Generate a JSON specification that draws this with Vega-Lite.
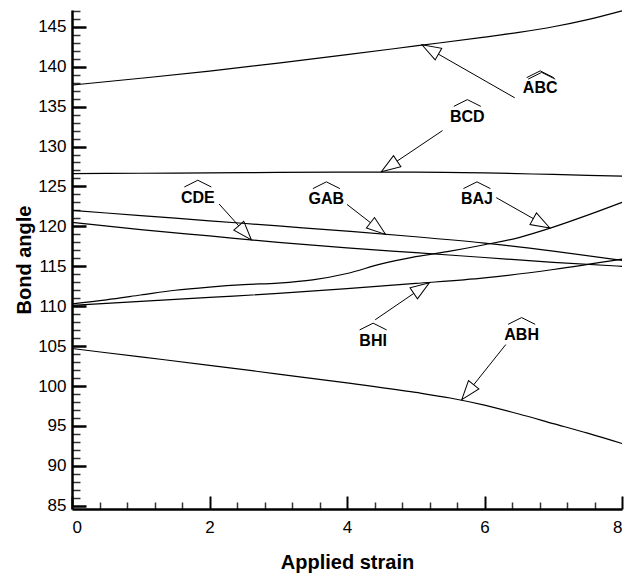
{
  "$schema": "https://vega.github.io/schema/vega-lite/v6.json",
  "width": 550,
  "height": 499,
  "autosize": {"type": "none"},
  "padding": {"left": 72, "top": 10, "right": 9, "bottom": 66},
  "background": "white",
  "config": {"view": {"stroke": null}, "font": "Liberation Sans"},
  "datasets": {
    "curves": [
      {"s": "ABC", "x": 0, "y": 137.7}, {"s": "ABC", "x": 1, "y": 138.55}, {"s": "ABC", "x": 2, "y": 139.45}, {"s": "ABC", "x": 3, "y": 140.45}, {"s": "ABC", "x": 4, "y": 141.5}, {"s": "ABC", "x": 5, "y": 142.6}, {"s": "ABC", "x": 6, "y": 143.7}, {"s": "ABC", "x": 6.5, "y": 144.3}, {"s": "ABC", "x": 7, "y": 145.0}, {"s": "ABC", "x": 7.5, "y": 145.9}, {"s": "ABC", "x": 8, "y": 147.0},
      {"s": "BCD", "x": 0, "y": 126.6}, {"s": "BCD", "x": 1, "y": 126.65}, {"s": "BCD", "x": 2, "y": 126.7}, {"s": "BCD", "x": 3, "y": 126.75}, {"s": "BCD", "x": 4, "y": 126.8}, {"s": "BCD", "x": 5, "y": 126.8}, {"s": "BCD", "x": 6, "y": 126.7}, {"s": "BCD", "x": 7, "y": 126.5}, {"s": "BCD", "x": 8, "y": 126.3},
      {"s": "GAB", "x": 0, "y": 122.0}, {"s": "GAB", "x": 1, "y": 121.35}, {"s": "GAB", "x": 2, "y": 120.7}, {"s": "GAB", "x": 3, "y": 120.05}, {"s": "GAB", "x": 4, "y": 119.4}, {"s": "GAB", "x": 5, "y": 118.7}, {"s": "GAB", "x": 6, "y": 117.9}, {"s": "GAB", "x": 7, "y": 116.9}, {"s": "GAB", "x": 8, "y": 115.75},
      {"s": "CDE", "x": 0, "y": 120.5}, {"s": "CDE", "x": 1, "y": 119.6}, {"s": "CDE", "x": 2, "y": 118.8}, {"s": "CDE", "x": 3, "y": 118.0}, {"s": "CDE", "x": 4, "y": 117.3}, {"s": "CDE", "x": 5, "y": 116.7}, {"s": "CDE", "x": 6, "y": 116.1}, {"s": "CDE", "x": 7, "y": 115.5}, {"s": "CDE", "x": 8, "y": 115.0},
      {"s": "BAJ", "x": 0, "y": 110.3}, {"s": "BAJ", "x": 0.5, "y": 110.8}, {"s": "BAJ", "x": 1, "y": 111.4}, {"s": "BAJ", "x": 1.5, "y": 112.0}, {"s": "BAJ", "x": 2, "y": 112.4}, {"s": "BAJ", "x": 2.5, "y": 112.7}, {"s": "BAJ", "x": 3, "y": 112.9}, {"s": "BAJ", "x": 3.5, "y": 113.3}, {"s": "BAJ", "x": 4, "y": 114.1}, {"s": "BAJ", "x": 4.5, "y": 115.3}, {"s": "BAJ", "x": 5, "y": 116.2}, {"s": "BAJ", "x": 5.5, "y": 116.9}, {"s": "BAJ", "x": 6, "y": 117.7}, {"s": "BAJ", "x": 6.5, "y": 118.6}, {"s": "BAJ", "x": 7, "y": 119.9}, {"s": "BAJ", "x": 7.5, "y": 121.4}, {"s": "BAJ", "x": 8, "y": 123.0},
      {"s": "BHI", "x": 0, "y": 110.1}, {"s": "BHI", "x": 1, "y": 110.6}, {"s": "BHI", "x": 2, "y": 111.1}, {"s": "BHI", "x": 3, "y": 111.6}, {"s": "BHI", "x": 4, "y": 112.2}, {"s": "BHI", "x": 5, "y": 112.85}, {"s": "BHI", "x": 6, "y": 113.55}, {"s": "BHI", "x": 7, "y": 114.6}, {"s": "BHI", "x": 8, "y": 115.9},
      {"s": "ABH", "x": 0, "y": 104.7}, {"s": "ABH", "x": 1, "y": 103.65}, {"s": "ABH", "x": 2, "y": 102.6}, {"s": "ABH", "x": 3, "y": 101.5}, {"s": "ABH", "x": 4, "y": 100.4}, {"s": "ABH", "x": 5, "y": 99.2}, {"s": "ABH", "x": 5.5, "y": 98.5}, {"s": "ABH", "x": 6, "y": 97.6}, {"s": "ABH", "x": 6.5, "y": 96.5}, {"s": "ABH", "x": 7, "y": 95.3}, {"s": "ABH", "x": 7.5, "y": 94.1}, {"s": "ABH", "x": 8, "y": 92.8}
    ],
    "ann": [
      {"label": "ABC", "lx": 6.81, "ly": 137.3, "tx": 6.44, "ty": 136.1, "hx": 5.09, "hy": 142.75, "angle": 209.7},
      {"label": "BCD", "lx": 5.75, "ly": 133.7, "tx": 5.39, "ty": 132.0, "hx": 4.5, "hy": 126.85, "angle": 146.3},
      {"label": "CDE", "lx": 1.83, "ly": 123.6, "tx": 2.14, "ty": 122.8, "hx": 2.61, "hy": 118.3, "angle": 48.3},
      {"label": "GAB", "lx": 3.7, "ly": 123.4, "tx": 4.0, "ty": 122.75, "hx": 4.56, "hy": 119.0, "angle": 37.6},
      {"label": "BAJ", "lx": 5.89, "ly": 123.4, "tx": 6.17, "ty": 123.6, "hx": 6.95, "hy": 119.8, "angle": 29.1},
      {"label": "BHI", "lx": 4.38, "ly": 105.7, "tx": 4.41, "ty": 108.3, "hx": 5.2, "hy": 112.95, "angle": 326},
      {"label": "ABH", "lx": 6.54, "ly": 106.4, "tx": 6.31, "ty": 105.2, "hx": 5.67, "hy": 98.3, "angle": 128.7}
    ]
  },
  "layer": [
    {
      "data": {"name": "ann"},
      "mark": {"type": "rule", "color": "black", "strokeWidth": 1},
      "encoding": {
        "x": {"field": "tx", "type": "quantitative", "scale": {"domain": [0, 8], "nice": false, "zero": false},
          "axis": {"orient": "bottom", "values": [0.4, 0.8, 1.2, 1.6, 2.4, 2.8, 3.2, 3.6, 4.4, 4.8, 5.2, 5.6, 6.4, 6.8, 7.2, 7.6], "labels": false, "domain": false, "title": null, "grid": false, "tickSize": -7, "tickWidth": 1.5, "tickColor": "#333333"}},
        "y": {"field": "ty", "type": "quantitative", "scale": {"domain": [84.6, 147.1], "nice": false, "zero": false},
          "axis": {"orient": "left", "values": [86, 87, 88, 89, 91, 92, 93, 94, 96, 97, 98, 99, 101, 102, 103, 104, 106, 107, 108, 109, 111, 112, 113, 114, 116, 117, 118, 119, 121, 122, 123, 124, 126, 127, 128, 129, 131, 132, 133, 134, 136, 137, 138, 139, 141, 142, 143, 144, 146, 147], "labels": false, "domain": false, "title": null, "grid": false, "tickSize": -8, "tickWidth": 1.5, "tickColor": "#333333"}},
        "x2": {"field": "hx"},
        "y2": {"field": "hy"}
      }
    },
    {
      "data": {"name": "ann"},
      "mark": {"type": "point", "shape": "M 0 0 L -2 -0.7 L -2 0.7 Z", "size": 361, "filled": true, "fill": "white", "stroke": "black", "strokeWidth": 1, "opacity": 1},
      "encoding": {
        "x": {"field": "hx", "type": "quantitative", "axis": null},
        "y": {"field": "hy", "type": "quantitative", "axis": null},
        "angle": {"field": "angle", "type": "quantitative", "scale": null}
      }
    },
    {
      "data": {"name": "curves"},
      "mark": {"type": "line", "color": "black", "strokeWidth": 1.2, "interpolate": "monotone"},
      "encoding": {
        "x": {"field": "x", "type": "quantitative", "scale": {"domain": [0, 8], "nice": false, "zero": false},
          "axis": {"orient": "bottom", "values": [0, 2, 4, 6, 8], "format": "d", "grid": false, "domainColor": "black", "domainWidth": 2.5, "tickColor": "black", "tickSize": -13, "tickWidth": 2, "labelFontSize": 17, "labelColor": "black", "labelFont": "Liberation Sans", "labelPadding": 23, "title": "Applied strain", "titleFont": "Liberation Sans", "titleFontSize": 20, "titleFontWeight": "bold", "titleColor": "black", "titlePadding": 17}},
        "y": {"field": "y", "type": "quantitative", "scale": {"domain": [84.6, 147.1], "nice": false, "zero": false},
          "axis": {"orient": "left", "values": [85, 90, 95, 100, 105, 110, 115, 120, 125, 130, 135, 140, 145], "grid": false, "domainColor": "black", "domainWidth": 2.5, "tickColor": "black", "tickSize": -14, "tickWidth": 2.5, "labelFontSize": 17, "labelColor": "black", "labelFont": "Liberation Sans", "labelPadding": 20, "title": "Bond angle", "titleFont": "Liberation Sans", "titleFontSize": 20, "titleFontWeight": "bold", "titleColor": "black", "titlePadding": 3}},
        "detail": {"field": "s", "type": "nominal"}
      }
    },
    {
      "data": {"name": "ann"},
      "mark": {"type": "text", "font": "Liberation Sans", "fontSize": 16, "fontWeight": "bold", "color": "black", "align": "center", "baseline": "middle"},
      "encoding": {
        "x": {"field": "lx", "type": "quantitative", "axis": null},
        "y": {"field": "ly", "type": "quantitative", "axis": null},
        "text": {"field": "label"}
      }
    },
    {
      "data": {"name": "ann"},
      "mark": {"type": "point", "shape": "M -1 0.25 L 0 -0.25 L 1 0.25", "size": 729, "filled": false, "stroke": "black", "strokeWidth": 1, "opacity": 1, "yOffset": -14},
      "encoding": {
        "x": {"field": "lx", "type": "quantitative", "axis": null},
        "y": {"field": "ly", "type": "quantitative", "axis": null}
      }
    },
    {
      "data": {"name": "ann"},
      "transform": [{"filter": "datum.label === 'ABC'"}],
      "mark": {"type": "point", "shape": "M -1 0.25 L 0 -0.25 L 1 0.25", "size": 729, "filled": false, "stroke": "black", "strokeWidth": 1, "opacity": 1, "xOffset": 1.5, "yOffset": -12.5},
      "encoding": {
        "x": {"field": "lx", "type": "quantitative", "axis": null},
        "y": {"field": "ly", "type": "quantitative", "axis": null}
      }
    }
  ],
  "resolve": {"axis": {"x": "independent", "y": "independent"}}
}
